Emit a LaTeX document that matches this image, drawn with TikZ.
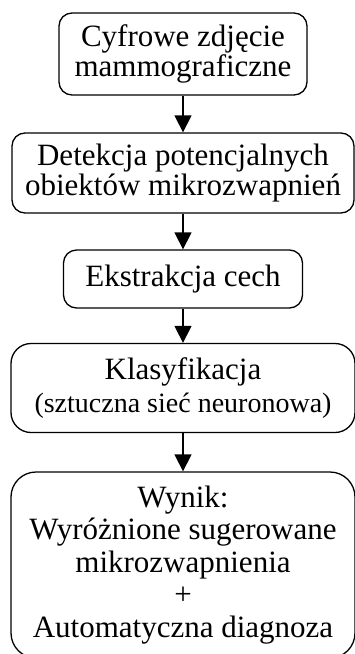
\documentclass[tikz,border=0pt]{standalone}
\usepackage{fontspec}
\setmainfont{Liberation Serif}
\usetikzlibrary{arrows.meta}
\begin{document}
\begin{tikzpicture}[x=1pt,y=-1pt,
  box/.style={draw, line width=1.3pt, rounded corners=13pt, align=center, inner sep=0pt,
    font=\fontsize{31}{30}\selectfont},
  arr/.style={line width=1.3pt, -{Triangle[length=17pt,width=17pt]}}]
\useasboundingbox (0,0) rectangle (355,654);
\node[box, minimum width=248pt, minimum height=82pt] (b1) at (183,54) {Cyfrowe zdjęcie\\mammograficzne};
\node[box, minimum width=342pt, minimum height=80pt] (b2) at (183,173) {Detekcja potencjalnych\\obiektów mikrozwapnień};
\node[box, minimum width=239pt, minimum height=58pt] (b3) at (183,279) {Ekstrakcja cech};
\node[box, rounded corners=20pt, minimum width=344pt, minimum height=89pt] (b4) at (183,388) {Klasyfikacja\\[3pt]{\fontsize{28}{30}\selectfont (sztuczna sieć neuronowa)}};
\node[box, rounded corners=25pt, minimum width=344pt, minimum height=186pt, font=\fontsize{31}{32.5}\selectfont] (b5) at (183,565) {Wynik:\\Wyróżnione sugerowane\\mikrozwapnienia\\+\\Automatyczna diagnoza};
\draw[arr] (b1) -- (b2);
\draw[arr] (b2) -- (b3);
\draw[arr] (b3) -- (b4);
\draw[arr] (b4) -- (b5);
\end{tikzpicture}
\end{document}
